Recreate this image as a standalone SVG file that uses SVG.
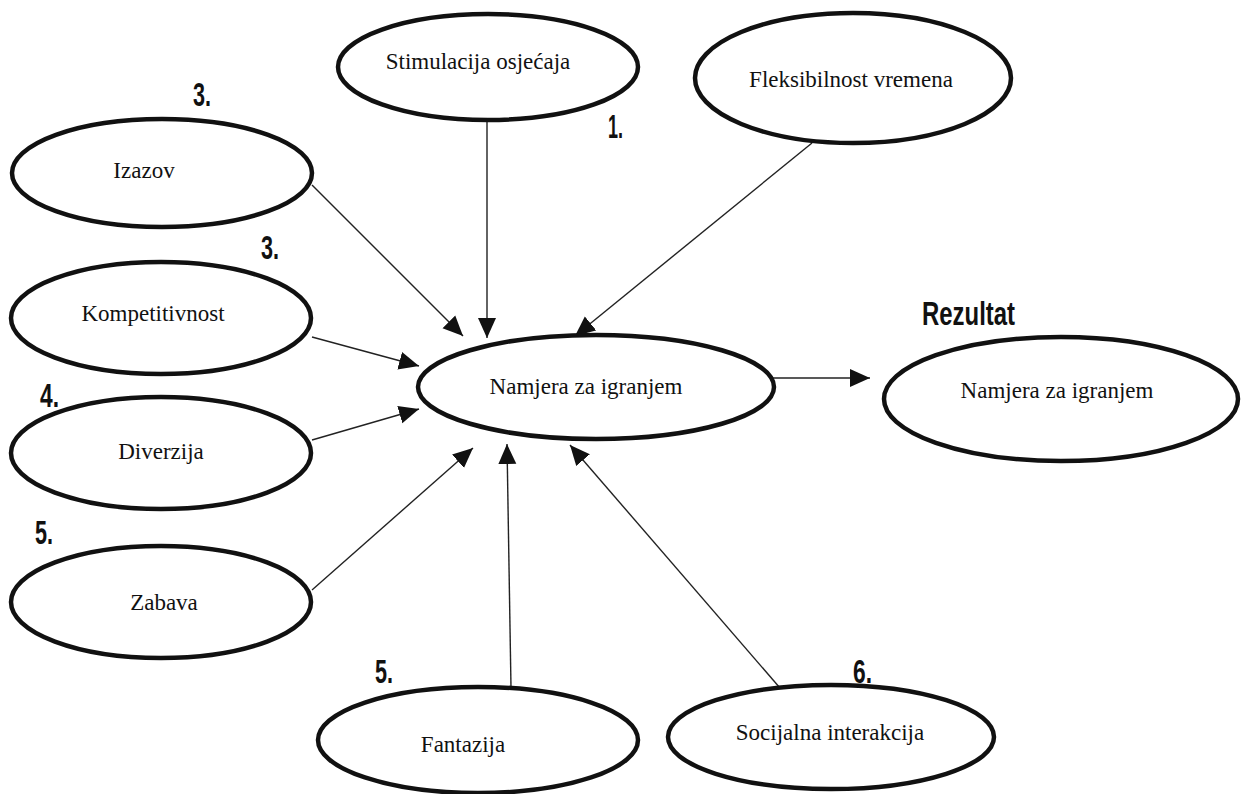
<svg xmlns="http://www.w3.org/2000/svg" width="1241" height="794" viewBox="0 0 1241 794">
<style>
.node ellipse{fill:#fff;stroke:#111;stroke-width:4.5}
.lbl{font-family:"Liberation Serif","Times New Roman",serif;font-size:23px;fill:#111;text-anchor:middle}
.hand{font-family:"Liberation Sans",Arial,sans-serif;font-weight:bold;font-size:34px;fill:#111}
.edges line{stroke:#222;stroke-width:1.4}
</style>
<defs>
<marker id="ah" viewBox="0 0 10 10" refX="10" refY="5" markerWidth="20" markerHeight="20" markerUnits="userSpaceOnUse" orient="auto">
<path d="M0,0.5 L10,5 L0,9.5 z" fill="#111"/>
</marker>
</defs>
<rect width="1241" height="794" fill="#fff"/>
<g class="edges">
<line x1="487" y1="120" x2="487" y2="338" marker-end="url(#ah)"/>
<line x1="812" y1="143" x2="575" y2="336" marker-end="url(#ah)"/>
<line x1="312" y1="185" x2="463" y2="336" marker-end="url(#ah)"/>
<line x1="312" y1="337" x2="419" y2="366" marker-end="url(#ah)"/>
<line x1="312" y1="440" x2="419" y2="409" marker-end="url(#ah)"/>
<line x1="312" y1="590" x2="473" y2="448" marker-end="url(#ah)"/>
<line x1="511" y1="688" x2="507" y2="444" marker-end="url(#ah)"/>
<line x1="780" y1="688" x2="570" y2="445" marker-end="url(#ah)"/>
<line x1="773" y1="378" x2="870" y2="378" marker-end="url(#ah)"/>
</g>
<g id="stimulacija" class="node"><ellipse cx="488" cy="67" rx="150" ry="53"/><text class="lbl" x="478" y="69">Stimulacija osjećaja</text></g>
<g id="fleksibilnost" class="node"><ellipse cx="853" cy="78" rx="158" ry="65"/><text class="lbl" x="851" y="87">Fleksibilnost vremena</text></g>
<g id="izazov" class="node"><ellipse cx="162" cy="173" rx="150" ry="54"/><text class="lbl" x="144" y="178">Izazov</text></g>
<g id="kompetitivnost" class="node"><ellipse cx="161" cy="318" rx="150" ry="56"/><text class="lbl" x="153" y="321">Kompetitivnost</text></g>
<g id="diverzija" class="node"><ellipse cx="161" cy="453" rx="150" ry="56"/><text class="lbl" x="161" y="459">Diverzija</text></g>
<g id="zabava" class="node"><ellipse cx="161" cy="602" rx="150" ry="56"/><text class="lbl" x="164" y="610">Zabava</text></g>
<g id="fantazija" class="node"><ellipse cx="478" cy="740" rx="160" ry="53"/><text class="lbl" x="463" y="752">Fantazija</text></g>
<g id="socijalna" class="node"><ellipse cx="831" cy="737" rx="163" ry="52"/><text class="lbl" x="830" y="740">Socijalna interakcija</text></g>
<g id="namjera" class="node"><ellipse cx="596" cy="387" rx="178" ry="52"/><text class="lbl" x="586" y="394">Namjera za igranjem</text></g>
<g id="rezultat" class="node"><ellipse cx="1061" cy="399" rx="177" ry="62"/><text class="lbl" x="1057" y="398">Namjera za igranjem</text></g>
<g id="notes">
<text class="hand" x="193" y="106" textLength="18" lengthAdjust="spacingAndGlyphs">3.</text>
<text class="hand" x="608" y="138" textLength="15" lengthAdjust="spacingAndGlyphs">1.</text>
<text class="hand" x="261" y="259" textLength="18" lengthAdjust="spacingAndGlyphs">3.</text>
<text class="hand" x="40" y="407" textLength="19" lengthAdjust="spacingAndGlyphs">4.</text>
<text class="hand" x="35" y="544" textLength="18" lengthAdjust="spacingAndGlyphs">5.</text>
<text class="hand" x="375" y="683" textLength="18" lengthAdjust="spacingAndGlyphs">5.</text>
<text class="hand" x="853" y="683" textLength="19" lengthAdjust="spacingAndGlyphs">6.</text>
<text class="hand" x="922" y="325" font-size="38" textLength="93" lengthAdjust="spacingAndGlyphs">Rezultat</text>
</g>
</svg>
